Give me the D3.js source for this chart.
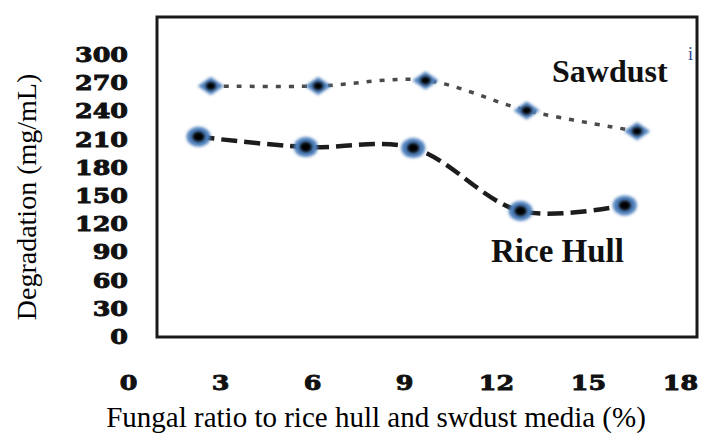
<!DOCTYPE html>
<html>
<head>
<meta charset="utf-8">
<script src="https://cdn.jsdelivr.net/npm/d3@7"></script>
<style>
  html, body { margin: 0; padding: 0; background: #fff; }
  svg { display: block; }
</style>
</head>
<body>
<div id="chart"></div>
<script>
// values
const xTicks = [0, 3, 6, 9, 12, 15, 18];
const yTicks = [0, 30, 60, 90, 120, 150, 180, 210, 240, 270, 300];
const sawdustX = [2.7, 6.2, 9.7, 13.0, 16.6];
const sawdustY = [267, 267, 273, 241, 219];
const riceHullX = [2.3, 5.8, 9.3, 12.8, 16.2];
const riceHullY = [213, 202, 201, 134, 140];

class DegradationChart {
    constructor() {
        const attrs = {
            container: '#chart',
            svgWidth: 701,
            svgHeight: 436,
            frame: { left: 157, top: 17, right: 697, bottom: 337 },
            markerBlue: '#4f81bd',
            tickFont: '"DejaVu Serif", serif',
            textFont: '"Liberation Serif", "Times New Roman", serif'
        };
        this.getState = () => attrs;
        this.setState = (d) => Object.assign(attrs, d);
    }

    render() {
        this.drawSvg();
        this.drawFrame();
        this.drawAxes();
        this.drawSeries();
        this.drawLabels();
        return this;
    }

    drawSvg() {
        const { container, svgWidth, svgHeight } = this.getState();
        const svg = d3.select(container).append('svg')
            .attr('width', svgWidth)
            .attr('height', svgHeight);

        const defs = svg.append('defs');
        defs.append('filter')
            .attr('id', 'soft')
            .attr('x', '-50%').attr('y', '-50%')
            .attr('width', '200%').attr('height', '200%')
            .append('feGaussianBlur')
            .attr('stdDeviation', 1.4);

        const x = d3.scaleLinear().domain([0, 18]).range([128, 680]);
        const y = d3.scaleLinear().domain([0, 300]).range([337, 55]);

        this.setState({ svg, x, y });
    }

    drawFrame() {
        const { svg, frame } = this.getState();
        svg.append('rect')
            .attr('x', frame.left)
            .attr('y', frame.top)
            .attr('width', frame.right - frame.left)
            .attr('height', frame.bottom - frame.top)
            .attr('fill', 'none')
            .attr('stroke', '#1a1a1a')
            .attr('stroke-width', 3);
    }

    drawAxes() {
        const { svg, x, y, tickFont } = this.getState();

        const yAxis = svg.append('g')
            .attr('transform', 'translate(128,0)')
            .call(d3.axisLeft(y).tickValues(yTicks).tickSize(0).tickPadding(0));

        const xAxis = svg.append('g')
            .attr('transform', 'translate(0,375)')
            .call(d3.axisBottom(x).tickValues(xTicks).tickSize(0).tickPadding(0));

        [yAxis, xAxis].forEach(g => {
            g.select('.domain').remove();
            g.selectAll('text')
                .attr('font-family', tickFont)
                .attr('font-weight', 'bold')
                .attr('font-size', 20.5)
                .attr('fill', '#111')
                .attr('stroke', '#111')
                .attr('stroke-width', 0.9)
                .attr('transform', 'scale(1.24,1)');
        });
        xAxis.selectAll('text').attr('text-anchor', 'middle');
    }

    drawSeries() {
        const { svg, x, y, markerBlue } = this.getState();

        const sawdust = sawdustX.map((d, i) => [d, sawdustY[i]]);
        const riceHull = riceHullX.map((d, i) => [d, riceHullY[i]]);

        const line = d3.line()
            .x(d => x(d[0]))
            .y(d => y(d[1]))
            .curve(d3.curveCatmullRom.alpha(0.5));

        svg.append('path')
            .datum(sawdust)
            .attr('d', line)
            .attr('fill', 'none')
            .attr('stroke', '#4a4a4a')
            .attr('stroke-width', 3.5)
            .attr('stroke-dasharray', '5,8');

        svg.append('path')
            .datum(riceHull)
            .attr('d', line)
            .attr('fill', 'none')
            .attr('stroke', '#1c1c1c')
            .attr('stroke-width', 4.5)
            .attr('stroke-dasharray', '16,7');

        // diamonds for sawdust
        const diamond = 'M-13,0L0,-9L13,0L0,9Z';
        const sd = svg.append('g').selectAll('g')
            .data(sawdust).enter().append('g')
            .attr('transform', d => 'translate(' + x(d[0]) + ',' + y(d[1]) + ')');
        sd.append('path')
            .attr('d', diamond)
            .attr('fill', markerBlue)
            .attr('filter', 'url(#soft)');
        sd.append('ellipse')
            .attr('rx', 5).attr('ry', 4)
            .attr('fill', '#000')
            .attr('filter', 'url(#soft)');

        // round markers for rice hull
        const rh = svg.append('g').selectAll('g')
            .data(riceHull).enter().append('g')
            .attr('transform', d => 'translate(' + x(d[0]) + ',' + y(d[1]) + ')');
        rh.append('ellipse')
            .attr('rx', 12).attr('ry', 10)
            .attr('fill', markerBlue)
            .attr('filter', 'url(#soft)');
        rh.append('ellipse')
            .attr('rx', 6).attr('ry', 5)
            .attr('fill', '#000')
            .attr('filter', 'url(#soft)');
    }

    drawLabels() {
        const { svg, textFont } = this.getState();

        svg.append('text')
            .attr('transform', 'translate(36,197) rotate(-90)')
            .attr('text-anchor', 'middle')
            .attr('font-family', textFont)
            .attr('font-size', 28)
            .attr('fill', '#000')
            .text('Degradation (mg/mL)');

        svg.append('text')
            .attr('x', 376)
            .attr('y', 427)
            .attr('text-anchor', 'middle')
            .attr('font-family', textFont)
            .attr('font-size', 29)
            .attr('fill', '#000')
            .text('Fungal ratio to rice hull and swdust media (%)');

        svg.append('text')
            .attr('x', 552)
            .attr('y', 82)
            .attr('font-family', textFont)
            .attr('font-weight', 'bold')
            .attr('font-size', 32)
            .attr('fill', '#111')
            .text('Sawdust');

        svg.append('text')
            .attr('x', 491)
            .attr('y', 262)
            .attr('font-family', textFont)
            .attr('font-weight', 'bold')
            .attr('font-size', 33)
            .attr('fill', '#111')
            .text('Rice Hull');

        svg.append('text')
            .attr('x', 688)
            .attr('y', 60)
            .attr('font-family', textFont)
            .attr('font-size', 18)
            .attr('fill', '#2f4f9f')
            .text('i');
    }
}

new DegradationChart().render();
</script>
</body>
</html>
